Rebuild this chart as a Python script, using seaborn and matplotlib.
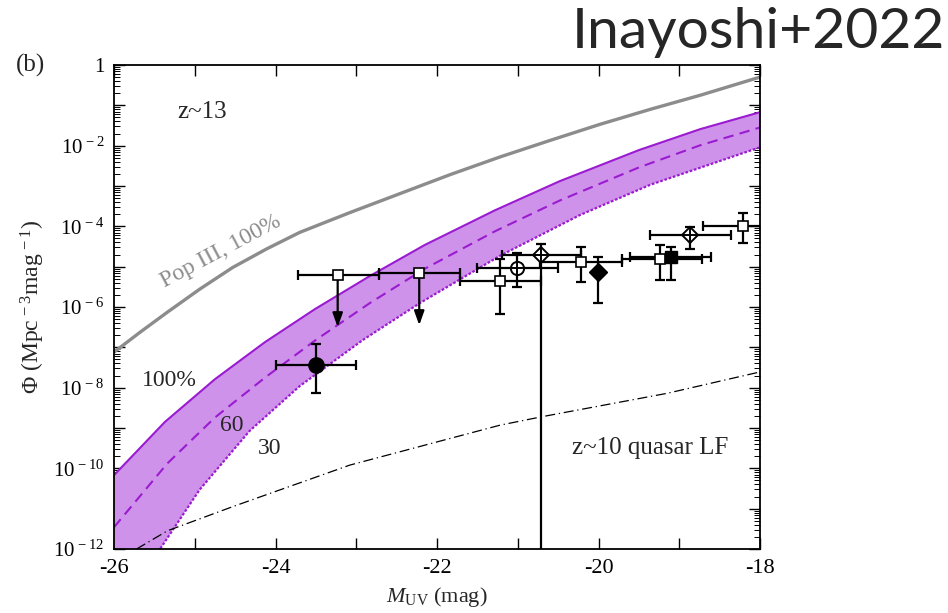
import numpy as np
import pandas as pd
import matplotlib
matplotlib.use("Agg")
import matplotlib.pyplot as plt
import seaborn as sns
from matplotlib.ticker import MultipleLocator, FuncFormatter, LogLocator, NullFormatter

# ---------------- data (M_UV, log10 Phi) ----------------
popiii_m = [-26.0, -25.68, -25.34, -24.94, -24.53, -24.11, -23.70, -23.08, -22.46, -21.84,
            -21.22, -20.60, -19.98, -19.36, -18.74, -18.0]
popiii_logphi = [-7.12, -6.63, -6.13, -5.56, -5.02, -4.56, -4.15, -3.66, -3.19, -2.72,
                 -2.28, -1.87, -1.47, -1.10, -0.75, -0.30]

f100_m = [-26.0, -25.37, -24.75, -24.13, -23.51, -22.83, -22.15, -21.28, -20.48, -19.50, -18.74, -18.0]
f100_logphi = [-10.17, -8.85, -7.79, -6.87, -6.05, -5.23, -4.46, -3.60, -2.88, -2.11, -1.59, -1.17]

f60_m = [-26.0, -25.34, -24.75, -24.13, -23.51, -22.83, -22.15, -21.28, -20.48, -19.50, -18.74, -18.0]
f60_logphi = [-11.46, -9.88, -8.74, -7.75, -6.83, -5.90, -5.05, -4.12, -3.36, -2.54, -1.99, -1.55]

f30_m = [-25.68, -25.43, -24.94, -24.32, -23.70, -22.92, -22.21, -21.22, -20.23, -19.36, -18.0]
f30_logphi = [-12.84, -12.0, -10.53, -9.07, -7.96, -6.82, -5.90, -4.73, -3.72, -2.97, -2.04]

qso_m = [-25.72, -25.34, -24.53, -23.08, -21.22, -20.70, -19.15, -18.0]
qso_logphi = [-12.0, -11.55, -10.95, -9.92, -8.93, -8.72, -8.14, -7.61]

# observed points: x, log phi, x-lo, x-hi, logphi-lo, logphi-hi
osq_m = [-21.22, -20.22, -19.24, -18.21]
osq_logphi = [-5.36, -4.88, -4.81, -3.98]
osq_mlo = [-21.71, -20.72, -19.71, -18.71]
osq_mhi = [-20.71, -19.71, -18.72, -17.70]
osq_lo = [-6.17, -5.38, -5.33, -4.41]
osq_hi = [-4.81, -4.51, -4.46, -3.67]

ul_m = [-23.23, -22.22]
ul_logphi = [-5.21, -5.16]
ul_mlo = [-23.72, -22.72]
ul_mhi = [-22.72, -21.71]
ul_tip = [-6.57, -6.52]

fcirc_m = [-23.50]
fcirc_logphi = [-7.44]
fcirc_mlo = [-24.00]
fcirc_mhi = [-23.00]
fcirc_lo = [-8.13]
fcirc_hi = [-6.92]

ocirc_m = [-21.01]
ocirc_logphi = [-5.03]
ocirc_mlo = [-21.50]
ocirc_mhi = [-20.50]
ocirc_lo = [-5.50]
ocirc_hi = [-4.67]

odia_m = [-20.71, -18.87]
odia_logphi = [-4.71, -4.22]
odia_mlo = [-21.20, -19.36]
odia_mhi = [-20.22, -18.36]
odia_lo = [-14.0, -4.56]
odia_hi = [-4.44, -4.02]

fdia_m = [-20.01]
fdia_logphi = [-5.12]
fdia_lo = [-5.90]
fdia_hi = [-4.76]

fsq_m = [-19.10]
fsq_logphi = [-4.76]
fsq_mlo = [-19.61]
fsq_mhi = [-18.61]
fsq_lo = [-5.33]
fsq_hi = [-4.51]

xticks = [-26, -24, -22, -20, -18]

# ---------------- style ----------------
sns.set_theme(style="ticks")
plt.rcParams['font.family'] = ['Liberation Serif', 'DejaVu Serif']
plt.rcParams['mathtext.fontset'] = 'custom'
plt.rcParams['mathtext.rm'] = 'Liberation Serif'
plt.rcParams['mathtext.it'] = 'Liberation Serif:italic'
plt.rcParams['mathtext.bf'] = 'Liberation Serif:bold'

fig = plt.figure(figsize=(9.48, 6.13), dpi=100)
ax = fig.add_axes([114/948, 1-549/613, (760-114)/948, (549-65)/613])

P = lambda a: 10.0 ** np.asarray(a, dtype=float)

band_color = '#cf92ea'
line_purple = '#9a1bd0'

# band
bx = np.concatenate([np.asarray(f100_m), np.asarray(f30_m)[::-1], [-26.0]])
by = np.concatenate([P(f100_logphi), P(f30_logphi)[::-1], [1e-14]])
ax.fill(bx, by, color=band_color, lw=0, zorder=1)

curves = pd.DataFrame({
    'M': popiii_m + f100_m + f60_m + f30_m + qso_m,
    'phi': np.concatenate([P(popiii_logphi), P(f100_logphi), P(f60_logphi), P(f30_logphi), P(qso_logphi)]),
    'curve': (['pop3'] * len(popiii_m) + ['f100'] * len(f100_m) + ['f60'] * len(f60_m)
              + ['f30'] * len(f30_m) + ['qso'] * len(qso_m)),
})
sty = {
    'pop3': dict(color='#8c8c8c', lw=2.4, ls='-'),
    'f100': dict(color=line_purple, lw=1.5, ls='-'),
    'f60': dict(color=line_purple, lw=1.5, ls=(0, (5, 3))),
    'f30': dict(color=line_purple, lw=1.6, ls=(0, (1.2, 0.8))),
    'qso': dict(color='black', lw=0.9, ls=(0, (8, 3, 1, 3))),
}
for name, d in curves.groupby('curve', sort=False):
    sns.lineplot(data=d, x='M', y='phi', ax=ax, sort=False, estimator=None,
                 color=sty[name]['color'], lw=sty[name]['lw'], linestyle=sty[name]['ls'], zorder=2)

eb = dict(fmt='none', ecolor='black', elinewidth=1.6, capsize=3.5, capthick=1.6, zorder=4)

def xe(m, lo, hi):
    m = np.asarray(m); return [m - np.asarray(lo), np.asarray(hi) - m]

def ye(lp, lo, hi):
    return [P(lp) - P(lo), P(hi) - P(lp)]

sq_kw = dict(ms=7, mfc='white', mec='black', mew=1.2, zorder=5, ls='none')
# open squares
ax.errorbar(osq_m, P(osq_logphi), xerr=xe(osq_m, osq_mlo, osq_mhi), yerr=ye(osq_logphi, osq_lo, osq_hi), **eb)
ax.plot(osq_m, P(osq_logphi), 's', **sq_kw)
# upper limits
ax.errorbar(ul_m, P(ul_logphi), xerr=xe(ul_m, ul_mlo, ul_mhi), **eb)
for m, lp, tip in zip(ul_m, ul_logphi, ul_tip):
    ax.annotate('', xy=(m, P(tip)), xytext=(m, P(lp)),
                arrowprops=dict(arrowstyle='-|>,head_length=0.7,head_width=0.25', color='black', lw=1.6), zorder=4)
ax.plot(ul_m, P(ul_logphi), 's', **sq_kw)
# filled circle
ax.errorbar(fcirc_m, P(fcirc_logphi), xerr=xe(fcirc_m, fcirc_mlo, fcirc_mhi), yerr=ye(fcirc_logphi, fcirc_lo, fcirc_hi), **eb)
ax.plot(fcirc_m, P(fcirc_logphi), 'o', ms=11, mfc='black', mec='black', zorder=5, ls='none')
# open circle with cross
ax.errorbar(ocirc_m, P(ocirc_logphi), xerr=xe(ocirc_m, ocirc_mlo, ocirc_mhi), yerr=ye(ocirc_logphi, ocirc_lo, ocirc_hi), **eb)
ax.plot(ocirc_m, P(ocirc_logphi), 'o', ms=9.5, mfc='white', mec='black', mew=1.4, zorder=5, ls='none')
ax.plot(ocirc_m, P(ocirc_logphi), '+', ms=9.5, mec='black', mew=1.4, zorder=6, ls='none')
# open diamonds with cross
ax.errorbar(odia_m, P(odia_logphi), xerr=xe(odia_m, odia_mlo, odia_mhi), yerr=ye(odia_logphi, odia_lo, odia_hi), **eb)
ax.plot(odia_m, P(odia_logphi), 'D', ms=8.5, mfc='white', mec='black', mew=1.4, zorder=5, ls='none')
ax.plot(odia_m, P(odia_logphi), '+', ms=11, mec='black', mew=1.4, zorder=6, ls='none')
# filled diamond
ax.errorbar(fdia_m, P(fdia_logphi), yerr=ye(fdia_logphi, fdia_lo, fdia_hi), **eb)
ax.plot(fdia_m, P(fdia_logphi), 'D', ms=9, mfc='black', mec='black', zorder=5, ls='none')
# filled square
ax.errorbar(fsq_m, P(fsq_logphi), xerr=xe(fsq_m, fsq_mlo, fsq_mhi), yerr=ye(fsq_logphi, fsq_lo, fsq_hi), **eb)
ax.plot(fsq_m, P(fsq_logphi), 's', ms=8, mfc='black', mec='black', zorder=5, ls='none')

# ---------------- axes ----------------
ax.set_yscale('log')
ax.set_xlim(-26, -18)
ax.set_ylim(1e-12, 1)
ax.xaxis.set_major_locator(MultipleLocator(1))
ax.xaxis.set_major_formatter(FuncFormatter(lambda v, p: f"{int(round(v))}" if int(round(v)) in xticks else ''))
ax.yaxis.set_major_locator(LogLocator(base=10, numticks=20))
ax.yaxis.set_minor_locator(LogLocator(base=10, subs=np.arange(2, 10), numticks=200))
ax.yaxis.set_minor_formatter(NullFormatter())

def yfmt(v, p):
    e = int(round(np.log10(v)))
    if e % 2:
        return ''
    if e == 0:
        return '1'
    return r'$\mathregular{10^{\,%d}}$' % e
ax.yaxis.set_major_formatter(FuncFormatter(yfmt))

ax.tick_params(which='both', direction='in', top=True, right=True, colors='black')
ax.tick_params(which='major', length=8, width=1.0, pad=7)
ax.tick_params(axis='x', which='major', labelsize=16)
ax.tick_params(axis='y', which='major', labelsize=15)
ax.tick_params(which='minor', length=4, width=0.7)
for s in ax.spines.values():
    s.set_linewidth(1.3)
    s.set_color('black')
ax.grid(False)

ax.set_xlabel(r'$\mathit{M}_{\mathregular{UV}}$ (mag)', fontsize=16, labelpad=5)
ax.set_ylabel(r'$\Phi$ (Mpc$^{\,-3}$mag$^{\,-1}$)', fontsize=17, labelpad=4)

# annotations
ax.text(-25.22, 10**-1.17, 'z~13', fontsize=18, ha='left', va='center')
ax.text(-25.31, 10**-7.81, '100%', fontsize=17, ha='center', va='center')
ax.text(-24.54, 10**-8.93, '60', fontsize=17, ha='center', va='center')
ax.text(-24.07, 10**-9.5, '30', fontsize=17, ha='center', va='center')
ax.text(-19.36, 10**-9.5, 'z~10 quasar LF', fontsize=18, ha='center', va='center')
ax.text(-24.68, 10**-4.62, 'Pop III, 100%', fontsize=17, color='#8c8c8c', ha='center', va='center',
        rotation=28, rotation_mode='anchor')
fig.text(30/948, 1-65/613, '(b)', fontsize=18, ha='center', va='center')
fig.text(945/948, 1-33/613, 'Inayoshi+2022', fontsize=41, ha='right', va='center', family=['Lato', 'DejaVu Sans'])

fig.savefig('out.png', dpi=100)
